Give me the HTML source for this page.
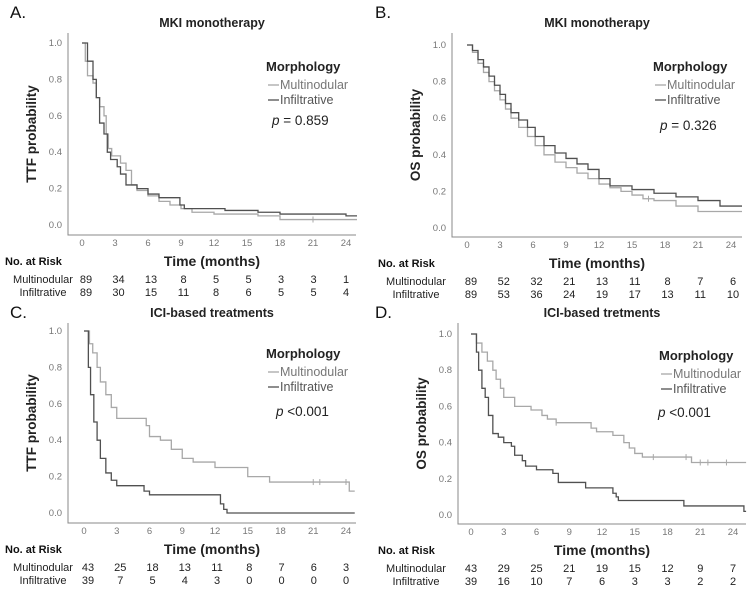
<!DOCTYPE html>
<html><head><meta charset="utf-8">
<style>
html,body{margin:0;padding:0;background:#fff;}
svg{display:block;font-family:"Liberation Sans",Arial,sans-serif;}
</style></head>
<body>
<svg id="fig" width="752" height="590" viewBox="0 0 752 590" xmlns="http://www.w3.org/2000/svg"></svg>
<script>
// ---- data ----
const xTicks = [0,3,6,9,12,15,18,21,24];
const yTicks = [0.0,0.2,0.4,0.6,0.8,1.0];
// Panel A (TTF, MKI)
const aMultiT = [0,0.3,0.5,1,1.3,1.6,2,2.2,2.4,2.7,3.5,4,4.5,5,6,7,8,9,10,12,16,18];
const aMultiS = [1,0.9,0.82,0.78,0.7,0.65,0.6,0.5,0.42,0.38,0.34,0.3,0.22,0.19,0.16,0.13,0.11,0.09,0.07,0.06,0.05,0.03];
const aInfT = [0,0.5,1,1.3,1.6,2,2.3,2.6,3.2,3.5,4,5,6,7,8.9,9.3,13,16,18,24];
const aInfS = [1,0.9,0.8,0.7,0.56,0.5,0.4,0.36,0.32,0.28,0.22,0.2,0.17,0.15,0.11,0.09,0.08,0.07,0.06,0.05];
const aMultiCens = [21];
const aInfCens = [];
// Panel B (OS, MKI)
const bMultiT = [0,0.5,1,1.5,2,2.5,3,3.5,4,4.7,5.5,6.2,7,8,9,10,11,12,13,14,15,16,17,19,21];
const bMultiS = [1,0.96,0.9,0.85,0.8,0.75,0.7,0.65,0.6,0.55,0.5,0.45,0.4,0.36,0.33,0.3,0.27,0.24,0.22,0.2,0.18,0.16,0.15,0.12,0.09];
const bInfT = [0,0.5,1,1.5,2,2.5,3,3.5,4,4.7,5.5,6.2,7,8,9,10,11,12,13,15,17,19,21,23];
const bInfS = [1,0.97,0.92,0.88,0.83,0.78,0.73,0.68,0.63,0.59,0.55,0.5,0.45,0.41,0.38,0.35,0.32,0.27,0.23,0.21,0.19,0.17,0.15,0.12];
const bMultiCens = [16.5];
const bInfCens = [];
// Panel C (TTF, ICI)
const cMultiT = [0,0.5,0.8,1.2,1.5,2,2.5,3,5.7,6,7,8,9,10,12,15,17,24.3];
const cMultiS = [1,0.93,0.88,0.8,0.72,0.65,0.58,0.52,0.48,0.42,0.4,0.35,0.3,0.28,0.25,0.2,0.17,0.12];
const cInfT = [0,0.4,0.6,0.9,1.2,1.5,2,2.5,3,5.5,6,12.5,12.8,13.1];
const cInfS = [1,0.8,0.65,0.5,0.4,0.3,0.22,0.18,0.15,0.12,0.1,0.05,0.02,0.0];
const cMultiCens = [21,21.6,24];
const cInfCens = [];
// Panel D (OS, ICI)
const dMultiT = [0,0.5,1,1.5,2,2.3,2.7,3,4,5.5,6.5,7,7.8,11,11.5,13,14,14.5,15,15.7,20.2];
const dMultiS = [1,0.95,0.9,0.85,0.8,0.75,0.7,0.65,0.6,0.58,0.55,0.53,0.51,0.48,0.46,0.44,0.4,0.37,0.34,0.32,0.29];
const dInfT = [0,0.5,0.7,1,1.3,1.6,2,2.5,3,3.7,4,4.7,5,6,7.5,8,10.5,13,13.3,13.5,19.5,25];
const dInfS = [1,0.9,0.8,0.7,0.65,0.55,0.45,0.43,0.4,0.38,0.33,0.3,0.27,0.25,0.23,0.18,0.15,0.12,0.1,0.08,0.05,0.02];
const dMultiCens = [7.8,16.7,19.7,21,21.7,23.4];
const dInfCens = [];
// risk tables
const aRiskMulti = [89,34,13,8,5,5,3,3,1];
const aRiskInf = [89,30,15,11,8,6,5,5,4];
const bRiskMulti = [89,52,32,21,13,11,8,7,6];
const bRiskInf = [89,53,36,24,19,17,13,11,10];
const cRiskMulti = [43,25,18,13,11,8,7,6,3];
const cRiskInf = [39,7,5,4,3,0,0,0,0];
const dRiskMulti = [43,29,25,21,19,15,12,9,7];
const dRiskInf = [39,16,10,7,6,3,3,2,2];

const svg = document.getElementById('fig');
const NS = 'http://www.w3.org/2000/svg';
function mk(tag, attrs, parent, text){
  const e = document.createElementNS(NS, tag);
  for (const k in attrs) e.setAttribute(k, attrs[k]);
  if (text !== undefined) e.textContent = text;
  (parent||svg).appendChild(e);
  return e;
}
const LIGHT = '#a8a8a8', DARK = '#505050';

function panel(p){
  const g = mk('g', {});
  
  
  const xs = t => p.x0 + (p.x24 - p.x0) * t / 24;
  const ys = v => p.y0 + (p.y1 - p.y0) * v;
  const tx = (x,y,s,o,name) => { const e = mk('text', Object.assign({x:x,y:y}, o||{}), g, s);   return e; };
  tx(p.lx, p.ly, p.letter, {'font-size':17,fill:'#111'}, 'panel-label');
  tx((p.axL + p.axR)/2, p.top - 6, p.title, {'font-size':12.5,'font-weight':'bold','text-anchor':'middle',fill:'#222'}, 'chart-title');
  const ax = mk('path', {d:`M${p.axL} ${p.top}V${p.bot}H${p.axR}`, fill:'none', stroke:'#888', 'stroke-width':1}, g);
   
  yTicks.forEach(v => { tx(p.axL - 6, ys(v) + 3, v.toFixed(1), {'font-size':9.5,'text-anchor':'end',fill:'#777'}, 'y-tick-label'); });
  xTicks.forEach(t => { tx(xs(t), p.bot + 11, String(t), {'font-size':9.5,'text-anchor':'middle',fill:'#777'}, 'x-tick-label'); });
  tx(0,0,p.ylab,{'font-size':13.5,'font-weight':'bold','text-anchor':'middle',fill:'#222',transform:`translate(${p.axL-32},${(p.top+p.bot)/2}) rotate(-90)`},'y-axis-title');
  tx((p.axL + p.axR)/2, p.bot + 31, 'Time (months)', {'font-size':14,'font-weight':'bold','text-anchor':'middle',fill:'#222'}, 'x-axis-title');
  function curve(T, S, col, name, cens){
    let d = `M${xs(T[0])} ${ys(S[0])}`;
    for (let i=1;i<T.length;i++){ d += `H${xs(T[i])}V${ys(S[i])}`; }
    d += `H${xs(Math.max(T[T.length-1], p.tEnd))}`;
    const e = mk('path', {d:d, fill:'none', stroke:col, 'stroke-width':1.3}, g);
    
    
    cens.forEach(c => {
      let v = S[0]; for (let i=0;i<T.length;i++) if (T[i] <= c) v = S[i];
      const m = mk('path', {d:`M${xs(c)} ${ys(v)-3}V${ys(v)+3}`, stroke:col, 'stroke-width':1}, g);
      
      
    });
  }
  curve(p.mT, p.mS, LIGHT, 'multinodular-curve', p.mC);
  curve(p.iT, p.iS, DARK, 'infiltrative-curve', p.iC);
  const lx = p.legX, ly = p.legY;
  tx(lx - 10, ly, 'Morphology', {'font-size':13,'font-weight':'bold',fill:'#222'}, 'legend-title');
  let e = mk('path',{d:`M${lx-8} ${ly+14}H${lx+3}`,stroke:LIGHT,'stroke-width':1.3},g);  
  tx(lx + 4, ly + 18, 'Multinodular', {'font-size':12.5,fill:'#777'}, 'legend-entry-multinodular');
  e = mk('path',{d:`M${lx-8} ${ly+29}H${lx+3}`,stroke:DARK,'stroke-width':1.3},g);  
  tx(lx + 4, ly + 33, 'Infiltrative', {'font-size':12.5,fill:'#555'}, 'legend-entry-infiltrative');
  const pt = tx(p.pX, p.pY, '', {'font-size':13.5,fill:'#222'}, 'p-value');
  mk('tspan',{'font-style':'italic'},pt,'p');
  mk('tspan',{},pt,p.pval);
  tx(p.riskLX, p.bot + 30, 'No. at Risk', {'font-size':11,'font-weight':'bold',fill:'#111'}, 'risk-table-header');
  tx(p.riskLX + 38, p.bot + 48, 'Multinodular', {'font-size':11,'text-anchor':'middle',fill:'#222'}, 'risk-row-label-multinodular');
  tx(p.riskLX + 38, p.bot + 61, 'Infiltrative', {'font-size':11,'text-anchor':'middle',fill:'#222'}, 'risk-row-label-infiltrative');
  const step = (p.rEnd - p.rStart) / 8;
  p.rm.forEach((n,i) => tx(p.rStart + i*step, p.bot + 48, String(n), {'font-size':11,'text-anchor':'middle',fill:'#222'}, 'risk-count-multinodular'));
  p.ri.forEach((n,i) => tx(p.rStart + i*step, p.bot + 61, String(n), {'font-size':11,'text-anchor':'middle',fill:'#222'}, 'risk-count-infiltrative'));
}

panel({id:'a',letter:'A.',lx:10,ly:18,title:'MKI monotherapy',axL:68,axR:356,top:33,bot:235,x0:82,x24:346,y1:43,y0:225,tEnd:25,
  ylab:'TTF probability',mT:aMultiT,mS:aMultiS,iT:aInfT,iS:aInfS,mC:aMultiCens,iC:aInfCens,
  legX:276,legY:71,pX:272,pY:125,pval:' = 0.859',riskLX:5,rStart:86,rEnd:346,rm:aRiskMulti,ri:aRiskInf});
panel({id:'b',letter:'B.',lx:375,ly:18,title:'MKI monotherapy',axL:452,axR:742,top:33,bot:237,x0:467,x24:731,y1:45,y0:228,tEnd:25,
  ylab:'OS probability',mT:bMultiT,mS:bMultiS,iT:bInfT,iS:bInfS,mC:bMultiCens,iC:bInfCens,
  legX:663,legY:71,pX:660,pY:130,pval:' = 0.326',riskLX:378,rStart:471,rEnd:733,rm:bRiskMulti,ri:bRiskInf});
panel({id:'c',letter:'C.',lx:10,ly:318,title:'ICI-based treatments',axL:68,axR:356,top:323,bot:523,x0:84,x24:346,y1:331,y0:513,tEnd:24.8,
  ylab:'TTF probability',mT:cMultiT,mS:cMultiS,iT:cInfT,iS:cInfS,mC:cMultiCens,iC:cInfCens,
  legX:276,legY:358,pX:276,pY:416,pval:' <0.001',riskLX:5,rStart:88,rEnd:346,rm:cRiskMulti,ri:cRiskInf});
panel({id:'d',letter:'D.',lx:375,ly:318,title:'ICI-based tretments',axL:458,axR:746,top:323,bot:524,x0:471,x24:733,y1:334,y0:515,tEnd:25.2,
  ylab:'OS probability',mT:dMultiT,mS:dMultiS,iT:dInfT,iS:dInfS,mC:dMultiCens,iC:dInfCens,
  legX:669,legY:360,pX:658,pY:417,pval:' <0.001',riskLX:378,rStart:471,rEnd:733,rm:dRiskMulti,ri:dRiskInf});
</script>
</body></html>
